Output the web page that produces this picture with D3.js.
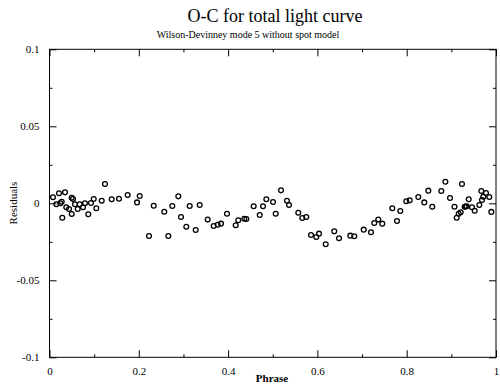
<!DOCTYPE html>
<html><head><meta charset="utf-8">
<script src="https://cdn.jsdelivr.net/npm/d3@7"></script>
<style>
html,body{margin:0;padding:0;background:#fff;}
text{font-family:"Liberation Serif","DejaVu Serif",serif;fill:#000;}
</style></head>
<body><svg id="c" width="500" height="385"></svg>
<script>
const title = "O-C for total light curve";
const subtitle = "Wilson-Devinney mode 5 without spot model";
const xLabel = "Phrase";
const yLabel = "Residuals";
const xMajorTicks = [0, 0.2, 0.4, 0.6, 0.8, 1];
const xMinorTicks = [0.1, 0.3, 0.5, 0.7, 0.9];
const yMajorTicks = [-0.1, -0.05, 0, 0.05, 0.1];
const yMinorTicks = [-0.075, -0.025, 0.025, 0.075];
const xTickLabels = ["0", "0.2", "0.4", "0.6", "0.8", "1"];
const yTickLabels = ["-0.1", "-0.05", "0", "0.05", "0.1"];

const phase = [
0.0078,0.0213,0.0347,0.0152,0.0242,0.0273,0.0287,0.0376,0.0437,0.0497,
0.0526,0.0497,0.0571,0.0632,0.0676,0.0750,0.0795,0.0869,0.0929,0.0990,
0.1048,0.1169,0.1243,0.1393,0.1557,0.1751,0.2020,0.1960,0.2334,0.2571,
0.2750,0.2885,0.3140,0.3364,0.2945,0.3064,0.3274,0.3543,0.2228,0.2661,
0.3677,0.3767,0.3841,0.3975,0.4170,0.4228,0.4363,0.4408,0.4573,0.4708,
0.4782,0.4856,0.5006,0.5066,0.5185,0.5319,0.5364,0.5572,0.5662,0.5751,
0.5857,0.5975,0.6036,0.6186,0.6378,0.6484,0.6737,0.6826,0.7037,0.7200,
0.7274,0.7364,0.7453,0.7677,0.7783,0.7857,0.7991,0.8067,0.8260,0.8394,
0.8484,0.8573,0.8866,0.8775,0.8970,0.9238,0.9070,0.9389,0.9299,0.9344,
0.9320,0.9463,0.9165,0.9209,0.9120,0.9523,0.9626,0.9671,0.9776,0.9716,
0.9850,0.9686,0.9895
];
const residual = [
0.0039,0.0065,0.0071,-0.0006,0.0000,0.0010,-0.0094,-0.0026,-0.0037,0.0036,
0.0028,-0.0069,-0.0006,-0.0037,-0.0006,-0.0026,0.0000,-0.0071,0.0002,0.0028,
-0.0032,0.0017,0.0125,0.0026,0.0030,0.0054,0.0047,0.0006,-0.0016,-0.0055,
-0.0018,0.0045,-0.0018,-0.0011,-0.0089,-0.0152,-0.0173,-0.0106,-0.0212,-0.0212,
-0.0147,-0.0139,-0.0132,-0.0068,-0.0143,-0.0110,-0.0100,-0.0102,-0.0019,-0.0076,
-0.0019,0.0026,0.0008,-0.0068,0.0084,0.0017,-0.0011,-0.0061,-0.0095,-0.0089,
-0.0206,-0.0219,-0.0197,-0.0266,-0.0182,-0.0227,-0.0210,-0.0214,-0.0171,-0.0188,
-0.0128,-0.0106,-0.0132,-0.0032,-0.0115,-0.0050,0.0013,0.0019,0.0041,0.0006,
0.0082,-0.0022,0.0140,0.0080,0.0034,0.0125,-0.0022,0.0026,-0.0022,-0.0019,
-0.0021,-0.0026,-0.0068,-0.0058,-0.0094,-0.0048,-0.0011,0.0080,0.0067,0.0043,
0.0041,0.0021,-0.0056
];

const svg = d3.select("#c");
const L = 49.5, R = 496, T = 49.3, B = 357.3;
const x = d3.scaleLinear().domain([0, 1]).range([L, R]);
const y = d3.scaleLinear().domain([-0.1, 0.1]).range([B, T]);

svg.append("rect").attr("x", L).attr("y", T).attr("width", R - L).attr("height", B - T)
  .attr("fill", "none").attr("stroke", "#000").attr("stroke-width", 1);

function styleAxis(g) {
  g.select(".domain").remove();
  g.selectAll(".tick line").attr("stroke", "#000").attr("stroke-width", 1);
  g.selectAll(".tick text").style("font-size", "11px").style("font-family", '"Liberation Serif",serif');
}
svg.append("g").attr("transform", `translate(0,${B})`)
  .call(d3.axisBottom(x).tickValues(xMajorTicks).tickSize(-7).tickPadding(10).tickFormat((d,i)=>xTickLabels[i]))
  .call(styleAxis);
svg.append("g").attr("transform", `translate(0,${B})`)
  .call(d3.axisBottom(x).tickValues(xMinorTicks).tickSize(-3).tickFormat(""))
  .call(styleAxis);
svg.append("g").attr("transform", `translate(0,${T})`)
  .call(d3.axisTop(x).tickValues(xMajorTicks).tickSize(-7).tickFormat(""))
  .call(styleAxis);
svg.append("g").attr("transform", `translate(0,${T})`)
  .call(d3.axisTop(x).tickValues(xMinorTicks).tickSize(-3).tickFormat(""))
  .call(styleAxis);
svg.append("g").attr("transform", `translate(${L},0)`)
  .call(d3.axisLeft(y).tickValues(yMajorTicks).tickSize(-7).tickPadding(10).tickFormat((d,i)=>yTickLabels[i]))
  .call(styleAxis);
svg.append("g").attr("transform", `translate(${L},0)`)
  .call(d3.axisLeft(y).tickValues(yMinorTicks).tickSize(-3).tickFormat(""))
  .call(styleAxis);
svg.append("g").attr("transform", `translate(${R},0)`)
  .call(d3.axisRight(y).tickValues(yMajorTicks).tickSize(-7).tickFormat(""))
  .call(styleAxis);
svg.append("g").attr("transform", `translate(${R},0)`)
  .call(d3.axisRight(y).tickValues(yMinorTicks).tickSize(-3).tickFormat(""))
  .call(styleAxis);

svg.append("g").selectAll("circle").data(phase).join("circle")
  .attr("cx", (d) => x(d)).attr("cy", (d, i) => y(residual[i]))
  .attr("r", 2.4).attr("fill", "none").attr("stroke", "#000").attr("stroke-width", 1.3);

svg.append("text").attr("x", 275).attr("y", 22).attr("text-anchor", "middle")
  .style("font-size", "18px").text(title);
svg.append("text").attr("x", 248).attr("y", 38).attr("text-anchor", "middle")
  .style("font-size", "10px").text(subtitle);
svg.append("text").attr("x", 272).attr("y", 382).attr("text-anchor", "middle")
  .style("font-size", "11px").style("font-weight", "bold").text(xLabel);
svg.append("text").attr("transform", `translate(17,203) rotate(-90)`).attr("text-anchor", "middle")
  .style("font-size", "11px").text(yLabel);
</script></body></html>
